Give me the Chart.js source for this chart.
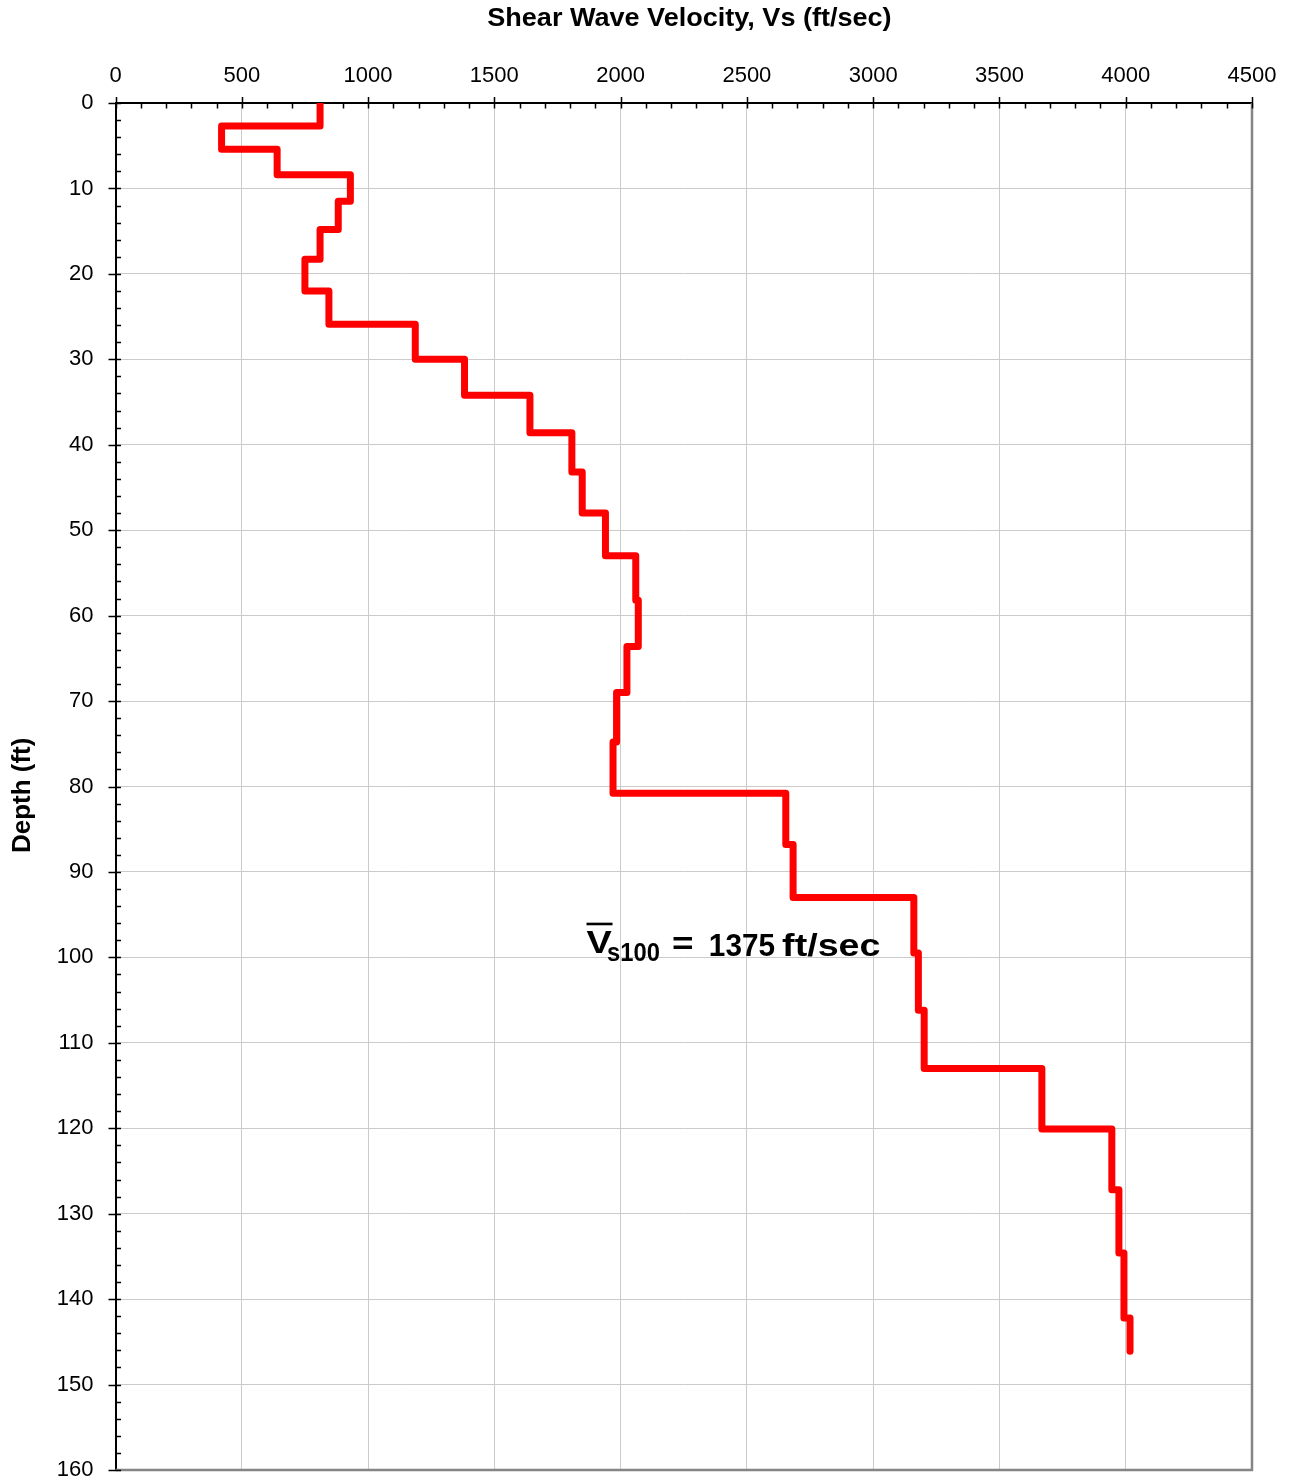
<!DOCTYPE html>
<html>
<head>
<meta charset="utf-8">
<script src="https://cdn.jsdelivr.net/npm/chart.js@4/dist/chart.umd.min.js"></script>
<style>
  html, body { margin: 0; padding: 0; background: #ffffff; overflow: hidden; }
  #wrap { width: 1294px; height: 1483px; position: relative; }
  #wrap canvas { display: block; }
</style>
</head>
<body>
<div id="wrap"><canvas id="c"></canvas></div>
<script>
// ---- Data ----
// Layer boundaries (depth, ft) : top of first layer ... bottom of last layer
const layerBoundaries = [0, 2.7, 5.4, 8.4, 11.5, 14.8, 18.3, 22.0, 25.9, 30.0,
  34.2, 38.6, 43.2, 48.0, 53.0, 58.2, 63.6, 69.0, 74.8, 80.8,
  86.8, 93.0, 99.5, 106.2, 113.0, 120.1, 127.2, 134.6, 142.2, 146.1];
// Shear wave velocity of each layer (ft/sec)
const layerVelocities = [810, 420, 640, 930, 882, 810, 750, 845, 1187,
  1382, 1641, 1807, 1848, 1940, 2060, 2070, 2025, 1984, 1970,
  2654, 2683, 3161, 3179, 3202, 3668, 3945, 3973, 3993, 4017];
const xTickValues = [0, 500, 1000, 1500, 2000, 2500, 3000, 3500, 4000, 4500];
const yTickValues = [0, 10, 20, 30, 40, 50, 60, 70, 80, 90, 100, 110, 120, 130, 140, 150, 160];
const xTitle = 'Shear Wave Velocity, Vs (ft/sec)';
const yTitle = 'Depth (ft)';
const vs100Value = 1375;
const vs100Anchor = { x: 1865, y: 99.45 }; // data coords of annotation start

// build step profile points
const profile = [];
layerVelocities.forEach((v, i) => {
  profile.push({ x: v, y: layerBoundaries[i] });
  profile.push({ x: v, y: layerBoundaries[i + 1] });
});

const FONT = "'Liberation Sans', Arial, Helvetica, sans-serif";
Chart.defaults.font.family = FONT;
Chart.defaults.color = '#000000';

const frame = {
  id: 'frame',
  beforeDatasetsDraw(chart) {
    const ctx = chart.ctx, a = chart.chartArea;
    const xs = chart.scales.x, ys = chart.scales.y;
    ctx.save();
    // right & bottom border
    ctx.strokeStyle = '#858585';
    ctx.lineWidth = 2.5;
    ctx.beginPath();
    ctx.moveTo(a.right, a.top);
    ctx.lineTo(a.right, a.bottom);
    ctx.lineTo(a.left, a.bottom);
    ctx.stroke();
    // tick marks
    ctx.strokeStyle = '#000000';
    ctx.lineWidth = 1.5;
    ctx.beginPath();
    for (let v = xs.min; v <= xs.max + 0.001; v += 100) {
      const px = Math.round(xs.getPixelForValue(v)) + 0.5;
      const major = Math.abs(v % 500) < 0.001;
      ctx.moveTo(px, major ? a.top - 6 : a.top);
      ctx.lineTo(px, a.top + 5.5);
    }
    for (let v = ys.min; v <= ys.max + 0.001; v += 2) {
      const py = Math.round(ys.getPixelForValue(v)) + 0.5;
      const major = Math.abs(v % 10) < 0.001;
      ctx.moveTo(major ? a.left - 7 : a.left, py);
      ctx.lineTo(a.left + 5.5, py);
    }
    ctx.stroke();
    ctx.restore();
  }
};

function drawPiece(ctx, text, font, inkLeft, baseline, targetW) {
  ctx.font = font;
  const m = ctx.measureText(text);
  const w = m.actualBoundingBoxLeft + m.actualBoundingBoxRight;
  const sx = targetW / w;
  ctx.save();
  ctx.translate(inkLeft, baseline);
  ctx.scale(sx, 1);
  ctx.textAlign = 'left';
  ctx.textBaseline = 'alphabetic';
  ctx.fillText(text, m.actualBoundingBoxLeft, 0);
  ctx.restore();
}

// axis titles, placed relative to the chart area
const titles = {
  id: 'titles',
  afterDraw(chart) {
    const ctx = chart.ctx, a = chart.chartArea;
    ctx.save();
    ctx.fillStyle = '#000000';
    // top title: ink spans ~404px centred a little right of the plot centre
    const cx = (a.left + a.right) / 2 + 5.5;
    drawPiece(ctx, xTitle, 'bold 25px ' + FONT, cx - 202, a.top - 77, 404);
    // left title, rotated
    const cy = (a.top + a.bottom) / 2 + 8.5;
    ctx.translate(30, cy);
    ctx.rotate(-Math.PI / 2);
    drawPiece(ctx, yTitle, 'bold 25px ' + FONT, -57, 0, 114);
    ctx.restore();
  }
};

const annotation = {
  id: 'vs100',
  afterDatasetsDraw(chart) {
    const ctx = chart.ctx;
    const ax = chart.scales.x.getPixelForValue(vs100Anchor.x);
    const ay = chart.scales.y.getPixelForValue(vs100Anchor.y);
    ctx.save();
    ctx.fillStyle = '#000000';
    drawPiece(ctx, 'V', 'bold 32px ' + FONT, ax, ay, 26);
    ctx.fillRect(ax, ay - 30, 26, 2.6);
    drawPiece(ctx, 's100', 'bold 25.5px ' + FONT, ax + 20.6, ay + 8, 52.7);
    drawPiece(ctx, '=', 'bold 31px ' + FONT, ax + 86.6, ay + 1.5, 19);
    drawPiece(ctx, String(vs100Value), 'bold 31px ' + FONT, ax + 123.3, ay + 3, 65);
    drawPiece(ctx, 'ft/sec', 'bold 31.6px ' + FONT, ax + 195.6, ay + 3, 97.7);
    ctx.restore();
  }
};

function noPad(s) {
  s.paddingLeft = 0; s.paddingRight = 0; s.paddingTop = 0; s.paddingBottom = 0;
}

new Chart(document.getElementById('c'), {
  type: 'scatter',
  data: {
    datasets: [{
      data: profile,
      showLine: true,
      borderColor: '#ff0000',
      backgroundColor: '#ff0000',
      borderWidth: 7,
      pointRadius: 0,
      pointHoverRadius: 0,
      tension: 0,
      fill: false,
      borderJoinStyle: 'round',
      borderCapStyle: 'round'
    }]
  },
  options: {
    responsive: true,
    maintainAspectRatio: false,
    animation: false,
    events: [],
    layout: { padding: { left: 0, top: 0, right: 42, bottom: 13 } },
    plugins: { legend: { display: false }, tooltip: { enabled: false } },
    scales: {
      x: {
        type: 'linear',
        position: 'top',
        min: 0, max: 4500,
        afterBuildTicks: (s) => { s.ticks = xTickValues.map(v => ({ value: v })); },
        afterFit: (s) => { s.height = 103; noPad(s); },
        ticks: { font: { size: 22 }, padding: 14, color: '#000', maxRotation: 0,
                 callback: (v) => String(v) },
        grid: { color: '#cbcbcb', lineWidth: 1, drawTicks: false },
        border: { display: true, color: '#000000', width: 2 },
        title: { display: false, text: xTitle }
      },
      y: {
        type: 'linear',
        position: 'left',
        reverse: true,
        min: 0, max: 160,
        afterBuildTicks: (s) => { s.ticks = yTickValues.map(v => ({ value: v })); },
        afterFit: (s) => { s.width = 115.5; noPad(s); },
        ticks: { font: { size: 22 }, padding: 22, color: '#000',
                 callback: (v) => String(v) },
        grid: { color: '#cbcbcb', lineWidth: 1, drawTicks: false },
        border: { display: true, color: '#000000', width: 2 },
        title: { display: false, text: yTitle }
      }
    }
  },
  plugins: [frame, annotation, titles]
});
</script>
</body>
</html>
